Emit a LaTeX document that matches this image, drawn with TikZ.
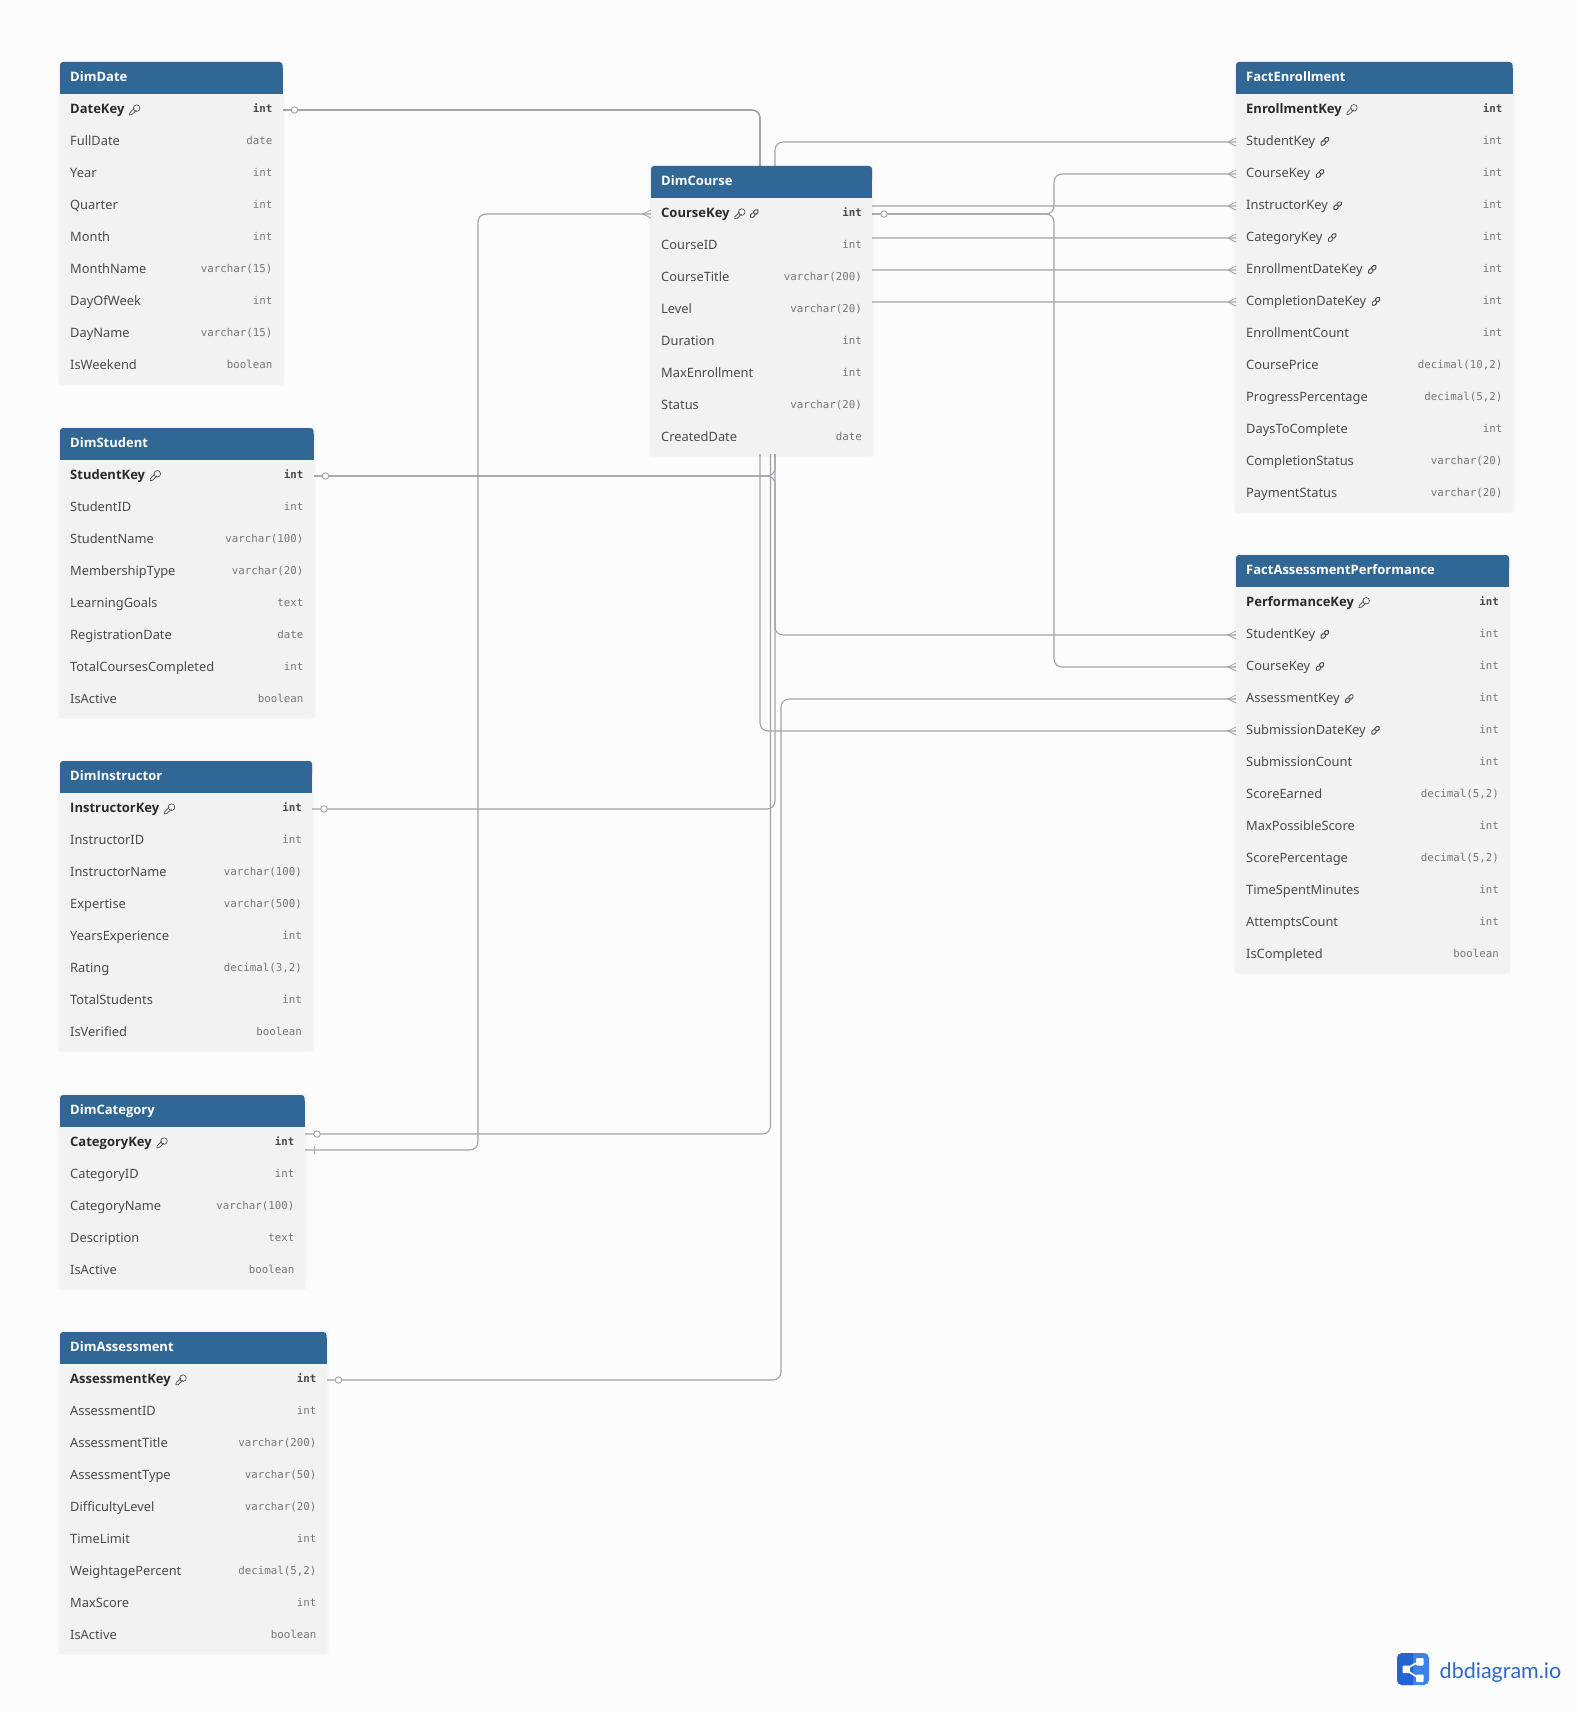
\documentclass[tikz,border=0pt]{standalone}
\usepackage{fontspec}
\setmainfont{Noto Sans}
\newfontfamily\hb{Open Sans}
\newfontfamily\typefont{DejaVu Sans Mono}
\newfontfamily\logofont{Lato}
\pgfdeclarelayer{bg}
\pgfdeclarelayer{conn}
\pgfsetlayers{bg,conn,main}
\definecolor{pagebg}{HTML}{FCFCFC}
\definecolor{headbg}{HTML}{316795}
\definecolor{rowbg}{HTML}{F2F2F2}
\definecolor{relc}{HTML}{A2A2AC}
\definecolor{txtc}{HTML}{4A4A4A}
\definecolor{keyc}{HTML}{2B2B2B}
\definecolor{typc}{HTML}{777777}
\definecolor{logoA}{HTML}{2563D2}
\definecolor{logoB}{HTML}{3C82E8}
\definecolor{logoT}{HTML}{2F69C6}
\tikzset{
  x=1pt,y=-1pt,
  rel/.style={draw=relc,line width=1.1pt,rounded corners=8pt},
  markline/.style={draw=relc,line width=.8pt},
  zeromark/.style={circle,draw=relc,fill=pagebg,line width=.9pt,minimum size=6.5pt,inner sep=0pt},
  rowcell/.style={inner sep=0pt,outer sep=0pt,minimum height=32pt},
  lbl/.style={anchor=base west,inner sep=0pt,font=\fontsize{12.85}{15}\selectfont},
  lbl-n/.style={lbl,text=txtc},
  lbl-f/.style={lbl,text=txtc},
  lbl-k/.style={lbl,text=keyc,font=\hb\fontsize{13}{15}\selectfont\bfseries},
  lbl-c/.style={lbl-k},
  typ/.style={anchor=base east,inner sep=0pt,font=\typefont\fontsize{10.8}{14}\selectfont},
  typ-n/.style={typ,text=typc},
  typ-f/.style={typ,text=typc},
  typ-k/.style={typ,text=txtc,font=\typefont\fontsize{10.8}{14}\selectfont\bfseries},
  typ-c/.style={typ-k},
  iconline/.style={draw=txtc,line width=.65pt},
  keypic/.pic={
    \draw[iconline,fill=rowbg] (2,-2) circle (3.3);
    \draw[iconline] (-.3,-2) -- (-4.8,2.6) -- (-5.1,4.8) -- (-2.8,4.5) -- (1.8,.1);
  },
  linkpic/.pic={
    \begin{scope}[rotate=45]
      \draw[iconline,line width=.95pt,rounded corners=1.6pt] (-.6,-1.8) rectangle (5,1.8);
      \draw[iconline,line width=.95pt,rounded corners=1.6pt,fill=rowbg] (-5,-1.8) rectangle (.6,1.8);
    \end{scope}
  },
  icon-n/.pic={},
  icon-k/.pic={\pic at (10,0) {keypic};},
  icon-f/.pic={\pic at (9.5,-.5) {linkpic};},
  icon-c/.pic={\pic at (10,0) {keypic}; \pic at (24.5,-.5) {linkpic};},
}
% #1 id, #2 left, #3 right, #4 top, #5 title, #6 rows
\newcommand\dbtable[6]{%
  \pgfmathsetmacro\tw{#3-#2}%
  \pgfmathsetmacro\tc{(#3+#2)/2}%
  \foreach \fn/\ft/\fl [count=\i] in {#6} {%
    \pgfmathsetmacro\ry{#4+32+32*(\i-1)+16}%
    \xdef\lasty{\ry}%
  }%
  \pgfmathsetmacro\tb{\lasty+16}%
  \foreach \sh/\op in {3/.008,2/.012,1/.018} {%
    \fill[black,opacity=\op,rounded corners=3pt] (#2-\sh,#4-\sh+1) rectangle (#3+\sh,\tb+\sh+1);
  }%
  \fill[rowbg] (#2,#4+30) rectangle (#3,\tb);
  \fill[headbg,rounded corners=3pt] (#2,#4) rectangle (#3,#4+16);
  \fill[headbg] (#2,#4+6) rectangle (#3,#4+32);
  \node[anchor=base west,inner sep=0pt,text=white,font=\hb\fontsize{13}{15}\selectfont\bfseries] (#1-title) at (#2+10,#4+19.5) {#5};
  \foreach \fn/\ft/\fl [count=\i] in {#6} {%
    \pgfmathsetmacro\ry{#4+32+32*(\i-1)+16}%
    \node[rowcell,minimum width=\tw pt] (#1-\i) at (\tc,\ry) {};
    \node[lbl-\fl] (#1-\i-n) at (#2+10,\ry+3.2) {\fn};
    \node[typ-\fl] (#1-\i-t) at (#3-10,\ry+2.6) {\ft};
    \pic at (#1-\i-n.east) {icon-\fl};
  }%
}
\newcommand\crowfoot[1]{%
  \draw[markline] ([xshift=-8pt]#1.west) -- ([yshift=4pt]#1.west);
  \draw[markline] ([xshift=-8pt]#1.west) -- ([yshift=-4pt]#1.west);
}
\begin{document}
\begin{tikzpicture}
\useasboundingbox (0,0) rectangle (1577,1712);
\begin{pgfonlayer}{bg}
  \fill[pagebg] (0,0) rectangle (1577,1712);
\end{pgfonlayer}

\dbtable{dd}{60}{282.5}{62}{DimDate}{DateKey/int/k,FullDate/date/n,Year/int/n,Quarter/int/n,Month/int/n,MonthName/varchar(15)/n,DayOfWeek/int/n,DayName/varchar(15)/n,IsWeekend/boolean/n}
\dbtable{ds}{60}{313.5}{428}{DimStudent}{StudentKey/int/k,StudentID/int/n,StudentName/varchar(100)/n,MembershipType/varchar(20)/n,LearningGoals/text/n,RegistrationDate/date/n,TotalCoursesCompleted/int/n,IsActive/boolean/n}
\dbtable{di}{60}{312}{761}{DimInstructor}{InstructorKey/int/k,InstructorID/int/n,InstructorName/varchar(100)/n,Expertise/varchar(500)/n,YearsExperience/int/n,Rating/{decimal(3,2)}/n,TotalStudents/int/n,IsVerified/boolean/n}
\dbtable{dcat}{60}{304.5}{1095}{DimCategory}{CategoryKey/int/k,CategoryID/int/n,CategoryName/varchar(100)/n,Description/text/n,IsActive/boolean/n}
\dbtable{da}{60}{326.5}{1332}{DimAssessment}{AssessmentKey/int/k,AssessmentID/int/n,AssessmentTitle/varchar(200)/n,AssessmentType/varchar(50)/n,DifficultyLevel/varchar(20)/n,TimeLimit/int/n,WeightagePercent/{decimal(5,2)}/n,MaxScore/int/n,IsActive/boolean/n}
\dbtable{dco}{651}{872}{166}{DimCourse}{CourseKey/int/c,CourseID/int/n,CourseTitle/varchar(200)/n,Level/varchar(20)/n,Duration/int/n,MaxEnrollment/int/n,Status/varchar(20)/n,CreatedDate/date/n}
\dbtable{fe}{1236}{1512.5}{62}{FactEnrollment}{EnrollmentKey/int/k,StudentKey/int/f,CourseKey/int/f,InstructorKey/int/f,CategoryKey/int/f,EnrollmentDateKey/int/f,CompletionDateKey/int/f,EnrollmentCount/int/n,CoursePrice/{decimal(10,2)}/n,ProgressPercentage/{decimal(5,2)}/n,DaysToComplete/int/n,CompletionStatus/varchar(20)/n,PaymentStatus/varchar(20)/n}
\dbtable{fa}{1236}{1509}{555}{FactAssessmentPerformance}{PerformanceKey/int/k,StudentKey/int/f,CourseKey/int/f,AssessmentKey/int/f,SubmissionDateKey/int/f,SubmissionCount/int/n,ScoreEarned/{decimal(5,2)}/n,MaxPossibleScore/int/n,ScorePercentage/{decimal(5,2)}/n,TimeSpentMinutes/int/n,AttemptsCount/int/n,IsCompleted/boolean/n}

\coordinate (t478) at (478,0);
\coordinate (t760) at (760,0);
\coordinate (t771) at (770.5,0);
\coordinate (t775) at (775,0);
\coordinate (t781) at (781,0);
\coordinate (t1054) at (1054,0);
\coordinate (catA) at ([yshift=9pt]dcat-1.east);
\coordinate (catB) at ([yshift=-7pt]dcat-1.east);

\begin{pgfonlayer}{conn}
  \draw[rel] (dd-1.east) -- (dd-1.east -| t760) -- (fa-5.west -| t760) -- (fa-5.west);
  \draw[rel] (dd-1.east) -- (dd-1.east -| t760) -- (fe-6.west -| t760) -- (fe-6.west);
  \draw[rel] (dd-1.east) -- (dd-1.east -| t760) -- (fe-7.west -| t760) -- (fe-7.west);
  \draw[rel] (ds-1.east) -- (ds-1.east -| t775) -- (fe-2.west -| t775) -- (fe-2.west);
  \draw[rel] (ds-1.east) -- (ds-1.east -| t775) -- (fa-2.west -| t775) -- (fa-2.west);
  \draw[rel] (di-1.east) -- (di-1.east -| t775) -- (fe-4.west -| t775) -- (fe-4.west);
  \draw[rel] (catA) -- (catA -| t771) -- (fe-5.west -| t771) -- (fe-5.west);
  \draw[rel] (catB) -- (catB -| t478) -- (dco-1.west -| t478) -- (dco-1.west);
  \draw[rel] (da-1.east) -- (da-1.east -| t781) -- (fa-4.west -| t781) -- (fa-4.west);
  \draw[rel] (dco-1.east) -- (dco-1.east -| t1054) -- (fe-3.west -| t1054) -- (fe-3.west);
  \draw[rel] (dco-1.east) -- (dco-1.east -| t1054) -- (fa-3.west -| t1054) -- (fa-3.west);
\end{pgfonlayer}

\node[zeromark] (z1) at ([xshift=12pt]dd-1.east) {};
\node[zeromark] (z2) at ([xshift=12pt]ds-1.east) {};
\node[zeromark] (z3) at ([xshift=12pt]di-1.east) {};
\node[zeromark] (z4) at ([xshift=12.5pt]catA) {};
\node[zeromark] (z5) at ([xshift=12pt]da-1.east) {};
\node[zeromark] (z6) at ([xshift=12pt]dco-1.east) {};
\draw[markline] ([xshift=10pt,yshift=4pt]catB) -- ([xshift=10pt,yshift=-4pt]catB);
\crowfoot{dco-1}
\crowfoot{fe-2}\crowfoot{fe-3}\crowfoot{fe-4}\crowfoot{fe-5}\crowfoot{fe-6}\crowfoot{fe-7}
\crowfoot{fa-2}\crowfoot{fa-3}\crowfoot{fa-4}\crowfoot{fa-5}

% logo
\fill[logoB,rounded corners=5pt] (1397,1653) rectangle (1429,1685);
\begin{scope}
  \clip (1397,1653) rectangle (1413,1685);
  \fill[logoA,rounded corners=5pt] (1397,1653) rectangle (1429,1685);
\end{scope}
\draw[white,line width=1.6pt] (1405,1669.5) -- (1419,1661.5) (1405,1669.5) -- (1419,1678);
\fill[white,rounded corners=1pt] (1402.5,1665.5) rectangle (1410,1673);
\fill[white,rounded corners=1pt] (1416,1658) rectangle (1423.5,1665.5);
\fill[white,rounded corners=1pt] (1416,1674.5) rectangle (1423.5,1682);
\node[anchor=base west,inner sep=0pt,text=logoT,font=\logofont\fontsize{21.5}{24}\selectfont] (logo) at (1439.5,1678) {dbdiagram.io};
\end{tikzpicture}
\end{document}
